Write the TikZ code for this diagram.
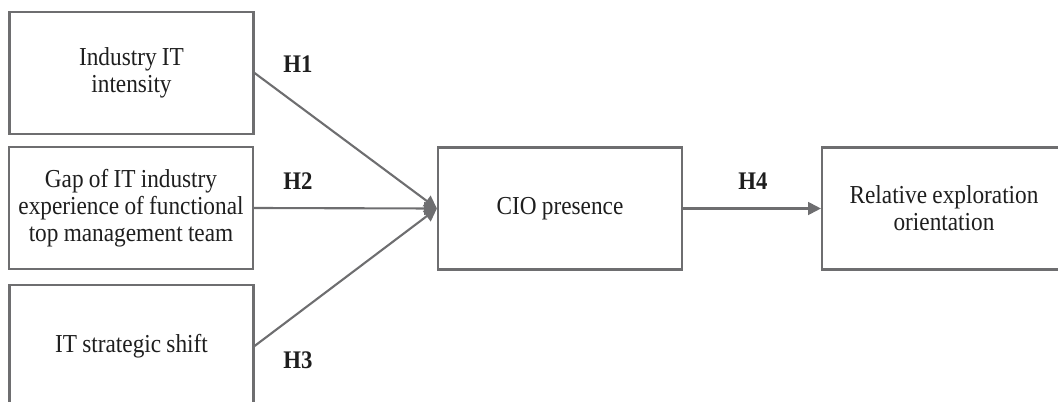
\documentclass[tikz,border=0pt]{standalone}
\usepackage{fontspec}
\setmainfont{Liberation Serif}[FakeStretch=0.9, WordSpace=0.9]
\usetikzlibrary{arrows.meta}
\definecolor{LineGray}{HTML}{6E6E70}
\definecolor{TextBlack}{HTML}{1E1E1E}

\begin{document}
\begin{tikzpicture}[
    x=0.025cm, y=-0.025cm,
    box/.style={draw=LineGray, line width=1.5pt, minimum width=6.1cm, minimum height=3.05cm,
        align=center, text=TextBlack, font=\fontsize{18.4}{19.3}\selectfont},
    hyp/.style={text=TextBlack, font=\fontsize{18}{19.3}\selectfont\bfseries},
    link/.style={draw=LineGray, line width=1.5pt, -{Triangle[length=0.32cm, width=0.32cm]}}
]
\useasboundingbox (0,0) rectangle (1058,401);
\clip (0,0) rectangle (1058,401);
\node[box] (intensity) at (131.5, 73) {Industry IT\\intensity};
\node[box] (gap) at (131, 208) {Gap of IT industry\\experience of functional\\top management team};
\node[box] (shift) at (131.5, 346) {IT strategic shift};
\node[box] (cio) at (560, 208.5) {CIO presence};
\node[box] (explore) at (944, 208.5) {Relative exploration\\orientation};
\draw[link] (intensity.east) -- (cio.west);
\draw[link] (gap.east) -- (cio.west);
\draw[link] (shift.east) -- (cio.west);
\draw[link] (cio.east) -- (explore.west);
\node[hyp] (h1) at (298, 64) {H1};
\node[hyp] (h2) at (298, 181) {H2};
\node[hyp] (h3) at (298, 360) {H3};
\node[hyp] (h4) at (753, 181) {H4};
\end{tikzpicture}
\end{document}
